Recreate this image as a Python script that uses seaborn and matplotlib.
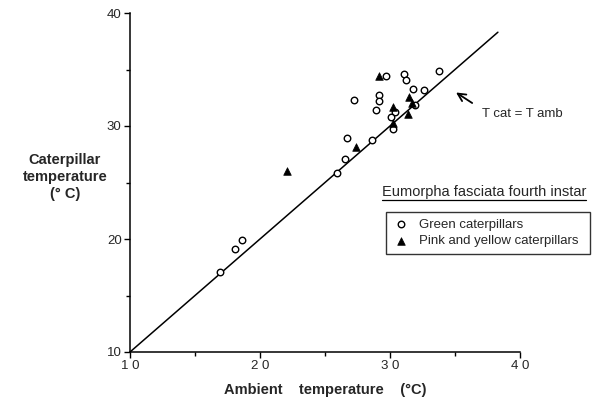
import matplotlib
matplotlib.use("Agg")
import matplotlib.pyplot as plt
import seaborn as sns
import pandas as pd
from matplotlib.lines import Line2D

sns.set_theme(style="ticks")
plt.rcParams['font.family'] = ['Liberation Sans', 'DejaVu Sans']

green_x = [29.7, 31.1, 31.25, 33.8, 31.8, 32.6, 27.2, 29.15, 29.15, 28.9, 30.4, 30.1, 31.9, 30.25,
           26.7, 28.6, 26.5, 25.95, 16.9, 18.1, 18.6]
green_y = [34.4, 34.6, 34.1, 34.9, 33.25, 33.2, 32.3, 32.7, 32.25, 31.45, 31.2, 30.8, 31.9, 29.7,
           28.95, 28.8, 27.05, 25.85, 17.05, 19.15, 19.9]
pink_x = [29.15, 31.45, 31.7, 30.2, 31.4, 30.25, 27.4, 22.1]
pink_y = [34.45, 32.6, 32.0, 31.7, 31.05, 30.25, 28.1, 26.0]
line_x = [10, 38.3]
line_y = [10, 38.3]
xticks = [10, 20, 30, 40]
yticks = [10, 20, 30, 40]
minor_ticks = [15, 25, 35]

df_g = pd.DataFrame({"x": green_x, "y": green_y})
df_p = pd.DataFrame({"x": pink_x, "y": pink_y})
df_l = pd.DataFrame({"x": line_x, "y": line_y})

fig = plt.figure(figsize=(5.94, 4.08), dpi=100)
ax = fig.add_axes([130/594, 1-352/408, 390/594, (352-13)/408])

sns.lineplot(data=df_l, x="x", y="y", ax=ax, color="black", linewidth=1.1, legend=False)
sns.scatterplot(data=df_g, x="x", y="y", ax=ax, marker="o", s=22, facecolor="white",
                edgecolor="black", linewidth=1.0, label="Green caterpillars", zorder=3)
sns.scatterplot(data=df_p, x="x", y="y", ax=ax, marker="^", s=30, color="black",
                edgecolor="black", linewidth=0.5, label="Pink and yellow caterpillars", zorder=4)

ax.set_xlim(10, 40)
ax.set_ylim(10, 40)
ax.set_xticks(xticks)
ax.set_yticks(yticks)
ax.set_xticks(minor_ticks, minor=True)
ax.set_yticks(minor_ticks, minor=True)
ax.set_xticklabels([" ".join(str(t)) for t in xticks], fontsize=9.5)
ax.set_yticklabels([str(t) for t in yticks], fontsize=9.5)
ax.tick_params(axis="both", which="major", length=4, width=1, color="black", pad=2)
ax.tick_params(axis="both", which="minor", length=3, width=1, color="black")
for s in ["top", "right"]:
    ax.spines[s].set_visible(False)
for s in ["left", "bottom"]:
    ax.spines[s].set_linewidth(1.1)
    ax.spines[s].set_color("black")

ax.set_xlabel("Ambient    temperature    (°C)", fontsize=10.5, fontweight="bold", labelpad=8)
ax.set_ylabel("")
fig.text(65/594, 1-177/408, "Caterpillar\ntemperature\n(° C)", ha="center", va="center",
         fontsize=10.5, fontweight="bold", linespacing=1.3)

ax.annotate("", xy=(34.9, 33.1), xytext=(36.5, 31.9),
            arrowprops=dict(arrowstyle="->", color="black", lw=1.3, mutation_scale=14))
ax.text(37.1, 31.1, "T cat = T amb", ha="left", va="center", fontsize=9.5)

leg = ax.legend(loc="upper left", bbox_to_anchor=(386/594, 1-256/408, 204/594, 44/408),
                bbox_transform=fig.transFigure, mode="expand",
                frameon=True, fancybox=False, edgecolor="black", fontsize=9.5,
                handletextpad=0.8, borderpad=0.5, labelspacing=0.3, handlelength=1.2,
                borderaxespad=0)
leg.get_frame().set_linewidth(1.0)

title = fig.text(382/594, 1-196/408, "Eumorpha fasciata fourth instar", ha="left", va="baseline",
                 fontsize=10.5)
fig.canvas.draw()
bb = title.get_window_extent(renderer=fig.canvas.get_renderer())
inv = fig.transFigure.inverted()
(x0, y0), (x1, y1) = inv.transform([[bb.x0, bb.y0], [bb.x1, bb.y1]])
fig.add_artist(Line2D([x0, x1], [y0 - 0.002, y0 - 0.002], transform=fig.transFigure,
                      color="black", linewidth=0.9))

fig.savefig("out.png", dpi=100)
